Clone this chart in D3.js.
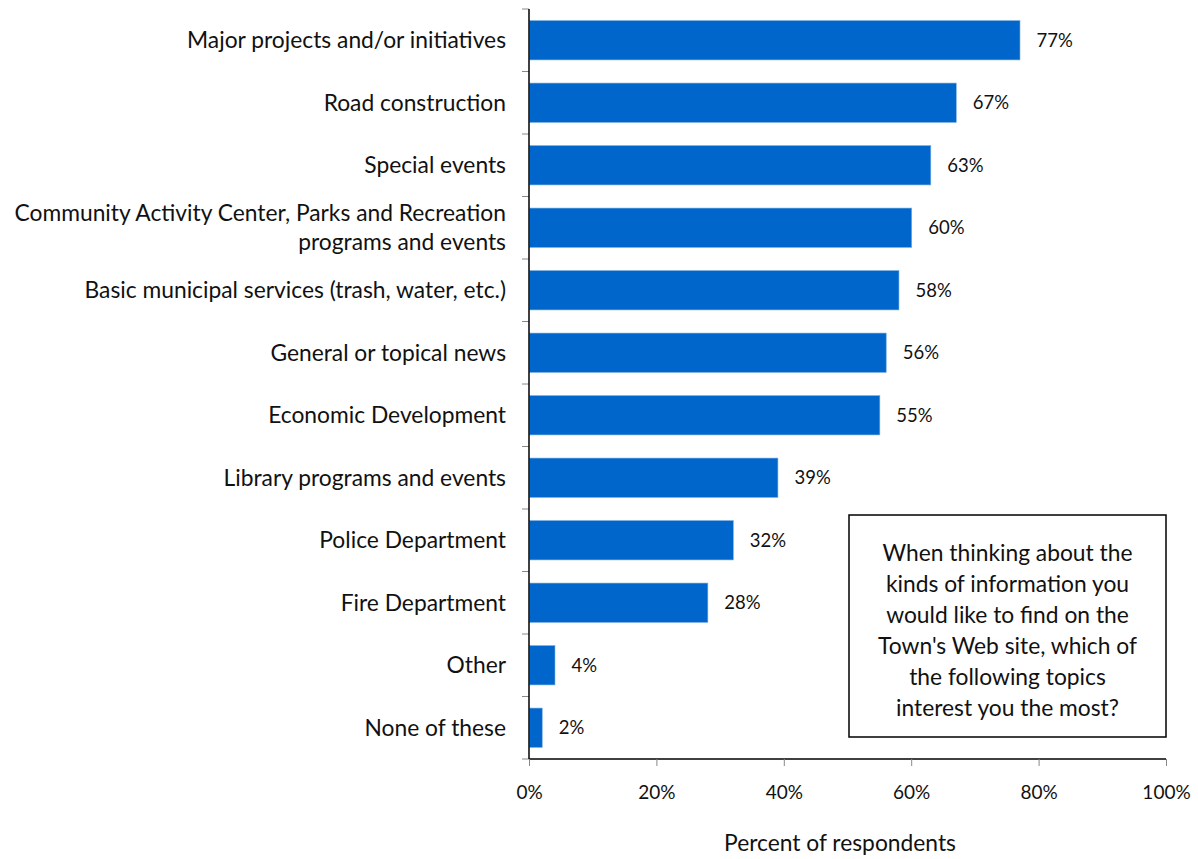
<!DOCTYPE html>
<html>
<head>
<meta charset="utf-8">
<script src="https://cdn.jsdelivr.net/npm/d3@7"></script>
<style>
  html, body { margin: 0; padding: 0; background: #fff; }
  svg { display: block; }
  text { font-family: Lato, "Open Sans", sans-serif; fill: #111; }
</style>
</head>
<body>
<svg id="chart" width="1198" height="859"></svg>
<script>
// Survey topics and share of respondents interested in each
const categories = [
  ["Major projects and/or initiatives"],
  ["Road construction"],
  ["Special events"],
  ["Community Activity Center, Parks and Recreation", "programs and events"],
  ["Basic municipal services (trash, water, etc.)"],
  ["General or topical news"],
  ["Economic Development"],
  ["Library programs and events"],
  ["Police Department"],
  ["Fire Department"],
  ["Other"],
  ["None of these"]
];
const values = [77, 67, 63, 60, 58, 56, 55, 39, 32, 28, 4, 2];
const xTicks = [0, 20, 40, 60, 80, 100];
const axisTitle = "Percent of respondents";
const questionLines = [
  "When thinking about the",
  "kinds of information you",
  "would like to find on the",
  "Town's Web site, which of",
  "the following topics",
  "interest you the most?"
];

const svg = d3.select("#chart");
const margin = { left: 529, right: 32, top: 9, bottom: 100 };
const W = 1198, H = 859;
const labelSize = 22.8;

const x = d3.scaleLinear().domain([0, 100]).range([margin.left, W - margin.right]);
const y = d3.scaleBand()
  .domain(d3.range(categories.length))
  .range([margin.top, H - margin.bottom])
  .paddingInner(0.37)
  .paddingOuter(0.185);

// Bars
svg.append("g")
  .selectAll("rect")
  .data(values)
  .join("rect")
  .attr("x", x(0) + 0.5)
  .attr("y", (d, i) => y(i))
  .attr("width", d => x(d) - x(0))
  .attr("height", y.bandwidth())
  .attr("fill", "#0066cc")
  .attr("stroke", "#7aaee0")
  .attr("stroke-width", 0.6);

// Value labels
svg.append("g")
  .selectAll("text")
  .data(values)
  .join("text")
  .attr("x", d => x(d) + 17)
  .attr("y", (d, i) => y(i) + y.bandwidth() / 2)
  .attr("dy", "0.35em")
  .attr("font-size", 18.5)
  .text(d => d + "%");

// Category axis: line plus outer ticks between bands
const bandEdges = d3.range(categories.length + 1).map(i => margin.top + i * ((H - margin.bottom - margin.top) / categories.length));
const yAxisG = svg.append("g");
yAxisG.selectAll("line.tick")
  .data(bandEdges)
  .join("line")
  .attr("x1", x(0) - 7).attr("x2", x(0))
  .attr("y1", d => d).attr("y2", d => d)
  .attr("stroke", "#888").attr("stroke-width", 1);
yAxisG.append("line")
  .attr("x1", x(0)).attr("x2", x(0))
  .attr("y1", margin.top).attr("y2", H - margin.bottom)
  .attr("stroke", "#000").attr("stroke-width", 1.5);

// Category labels (right aligned, multi-line where needed)
svg.append("g")
  .selectAll("text")
  .data(categories)
  .join("text")
  .attr("text-anchor", "end")
  .attr("font-size", labelSize)
  .attr("transform", (d, i) => `translate(${x(0) - 23},${y(i) + y.bandwidth() / 2})`)
  .each(function (lines) {
    const t = d3.select(this);
    const lh = 29;
    const off = -(lines.length - 1) * lh / 2;
    lines.forEach((l, k) => {
      t.append("tspan").attr("x", 0).attr("y", off + k * lh).attr("dy", "0.35em").text(l);
    });
  });

// Value axis
const xAxis = d3.axisBottom(x)
  .tickValues(xTicks)
  .tickFormat(d => d + "%")
  .tickSize(7)
  .tickPadding(20);
const xAxisG = svg.append("g")
  .attr("transform", `translate(0,${H - margin.bottom})`)
  .call(xAxis);
xAxisG.select(".domain").attr("stroke", "#000").attr("stroke-width", 1.5).attr("d", `M${x(0)},0H${x(100)}`);
xAxisG.selectAll(".tick line").attr("stroke", "#888");
xAxisG.selectAll(".tick text")
  .attr("font-size", 19)
  .attr("font-family", "Lato, sans-serif")
  .attr("fill", "#111");

svg.append("text")
  .attr("x", 840)
  .attr("y", 851)
  .attr("text-anchor", "middle")
  .attr("font-size", labelSize)
  .text(axisTitle);

// Question box
const box = { x0: 849, y0: 515, x1: 1166, y1: 737 };
svg.append("rect")
  .attr("x", box.x0).attr("y", box.y0)
  .attr("width", box.x1 - box.x0).attr("height", box.y1 - box.y0)
  .attr("fill", "#fff").attr("stroke", "#000").attr("stroke-width", 1.5);
svg.append("g")
  .selectAll("text")
  .data(questionLines)
  .join("text")
  .attr("x", (box.x0 + box.x1) / 2)
  .attr("y", (d, i) => 553 + i * 31)
  .attr("dy", "0.35em")
  .attr("text-anchor", "middle")
  .attr("font-size", labelSize)
  .text(d => d);
</script>
</body>
</html>
